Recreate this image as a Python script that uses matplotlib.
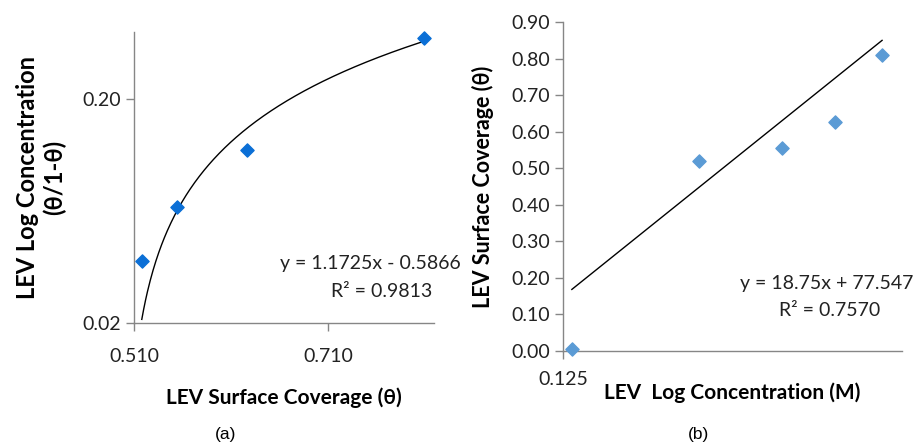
import numpy as np
import matplotlib
matplotlib.use("Agg")
import matplotlib.pyplot as plt
from matplotlib.ticker import FixedLocator, NullLocator, FixedFormatter

plt.rcParams['font.family'] = ['Lato', 'DejaVu Sans']

# (a) surface coverage vs log concentration (log y axis)
theta_a = [0.518, 0.554, 0.626, 0.809]
logc_a = [0.038, 0.066, 0.118, 0.374]
slope_a, icpt_a = 1.1725, -0.5866
xticks_a = [0.510, 0.710]
yticks_a = [0.02, 0.20]

# (b) log concentration vs surface coverage
logc_b = [-3.24, -1.75, -0.78, -0.15, 0.40]
theta_b = [0.005, 0.519, 0.555, 0.628, 0.810]
slope_b, icpt_b = 18.75, 77.547
yticks_b = np.round(np.arange(0, 0.91, 0.1), 2)
xlim_b = (-3.34, 0.63)

AX = '#868686'
fig = plt.figure(figsize=(9.13, 4.45), dpi=100)


def style(ax):
    for s in ['top', 'right']:
        ax.spines[s].set_visible(False)
    for s in ['left', 'bottom']:
        ax.spines[s].set_color(AX)
        ax.spines[s].set_linewidth(1.0)
    ax.tick_params(colors=AX, length=6, width=1.0, labelcolor='#222222',
                   labelsize=14, direction='out')


# panel (a)
ax1 = fig.add_axes([0.1468, 0.2742, 0.3286, 0.6539])
style(ax1)
ax1.set_yscale('log')
ax1.set_xlim(0.510, 0.8193)
ax1.set_ylim(0.02, 0.398)
ax1.yaxis.set_major_locator(FixedLocator(yticks_a))
ax1.yaxis.set_major_formatter(FixedFormatter(['%.2f' % v for v in yticks_a]))
ax1.yaxis.set_minor_locator(NullLocator())
ax1.set_xticks(xticks_a)
ax1.set_xticklabels(['%.3f' % v for v in xticks_a])
ax1.tick_params(axis='x', pad=12)
xx = np.linspace(theta_a[0], theta_a[-1], 300)
ax1.plot(xx, slope_a * xx + icpt_a, color='black', lw=1.0)
ax1.scatter(theta_a, logc_a, marker='D', s=45, color='#0B6FD6', zorder=3,
            clip_on=False)
ax1.set_xlabel('LEV Surface Coverage (θ)', fontsize=15, fontweight='bold',
               labelpad=16)
ax1.set_ylabel('LEV Log Concentration\n(θ/1-θ)', fontsize=17,
               fontweight='bold', linespacing=1.2, va='center')
ax1.yaxis.set_label_coords(-(134 - 41) / 300, 0.5)
fig.text(0.505, 0.407, 'y = 1.1725x - 0.5866', ha='right', va='center',
         fontsize=14, color='#222222')
fig.text(0.418, 0.345, 'R² = 0.9813', ha='center', va='center',
         fontsize=14, color='#222222')

# panel (b)
ax2 = fig.add_axes([0.617, 0.2119, 0.3706, 0.738])
style(ax2)
ax2.set_xlim(*xlim_b)
ax2.set_ylim(0, 0.9)
ax2.set_yticks(yticks_b)
ax2.set_yticklabels(['%.2f' % v for v in yticks_b])
ax2.set_xticks([xlim_b[0]])
ax2.set_xticklabels(['0.125'])
ax2.tick_params(axis='x', pad=8.5)
xb = np.linspace(logc_b[0], logc_b[-1], 50)
ax2.plot(xb, (slope_b * xb + icpt_b) / 100, color='black', lw=1.0)
ax2.scatter(logc_b, theta_b, marker='D', s=45, color='#5B9BD5', zorder=3,
            clip_on=False)
ax2.set_xlabel('LEV  Log Concentration (M)', fontsize=15, fontweight='bold',
               va='center')
ax2.xaxis.set_label_coords(0.5, -(393 - 350.7) / 328.4)
ax2.set_ylabel('LEV Surface Coverage (θ)', fontsize=15.5, fontweight='bold',
               va='center')
ax2.yaxis.set_label_coords(-(563.3 - 482.5) / 338.4, 0.5)
fig.text(1.0, 0.364, 'y = 18.75x + 77.547', ha='right', va='center',
         fontsize=14, color='#222222')
fig.text(0.909, 0.302, 'R² = 0.7570', ha='center', va='center',
         fontsize=14, color='#222222')

fig.text(0.2475, 0.0225, '(a)', ha='center', va='center', fontsize=12.5,
         family=['Liberation Sans'])
fig.text(0.7656, 0.0225, '(b)', ha='center', va='center', fontsize=12.5,
         family=['Liberation Sans'])

fig.savefig('out.png', dpi=100)
